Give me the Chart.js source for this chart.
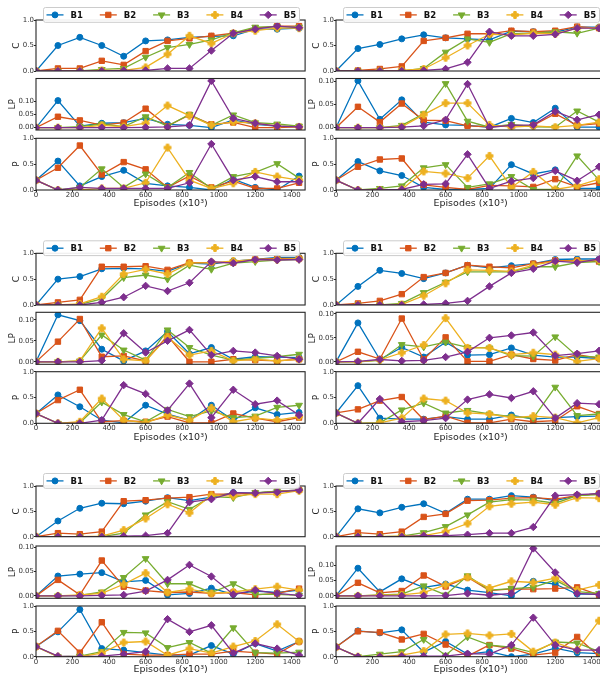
<!DOCTYPE html>
<html><head><meta charset="utf-8">
<script src="https://cdn.jsdelivr.net/npm/chart.js@4.4.1/dist/chart.umd.min.js"></script>
<style>
html,body{margin:0;padding:0;background:#fff;overflow:hidden;width:600px;height:675px;}
#wrap{position:relative;width:600px;height:675px;overflow:hidden;background:#fff;}
#wrap canvas{position:absolute;}
</style></head><body><div id="wrap"></div>
<script>
// ---------------- DATA ----------------
const episodes = [0,120,240,360,480,600,720,840,960,1080,1200,1320,1440];
const seriesNames = ['B1','B2','B3','B4','B5'];
const subplotNames = ['C','LP','P'];
const xTickValues = [0,200,400,600,800,1000,1200,1400];
const unitTickValues = [0,0.5,1.0];
const lpTickValues = [0,0.05,0.10];
const xTitle = 'Episodes (x10\u00B3)';

// Panel 1 (top-left)
const panel1_C = [
 [0,0.50,0.66,0.50,0.29,0.59,0.61,0.66,0.68,0.69,0.82,0.82,0.84],
 [0,0.05,0.05,0.20,0.12,0.39,0.59,0.64,0.69,0.74,0.84,0.88,0.88],
 [0,0,0,0.03,0.05,0.27,0.46,0.52,0.61,0.75,0.86,0.87,0.86],
 [0,0,0,0.01,0.01,0.07,0.33,0.69,0.54,0.74,0.79,0.84,0.84],
 [0,0,0,0,0.01,0.01,0.05,0.05,0.40,0.74,0.82,0.88,0.85]];
const panel1_LP = [
 [0,0.104,0.006,0.017,0.019,0.036,0.013,0.009,0,0.030,0.013,0.006,0.003],
 [0,0.042,0.028,0.010,0.019,0.073,0.006,0.049,0.013,0.020,0,0,0.003],
 [0,0,0.004,0.014,0.004,0.042,0.006,0.051,0.009,0.049,0.019,0.014,0.006],
 [0,0,0,0.009,0.004,0.017,0.085,0.046,0.010,0.022,0.017,0.006,0.003],
 [0,0,0,0,0,0.001,0.003,0.009,0.180,0.036,0.017,0.006,0.003]];
const panel1_P = [
 [0.19,0.56,0.08,0.26,0.38,0.13,0.08,0.05,0,0.21,0.05,0,0.27],
 [0.19,0.43,0.86,0.30,0.54,0.40,0.05,0.27,0.05,0.17,0.03,0.03,0.14],
 [0.19,0,0.05,0.41,0.05,0.31,0.05,0.34,0.03,0.26,0.34,0.51,0.23],
 [0.19,0,0,0.03,0.03,0.14,0.82,0.19,0.03,0.13,0.35,0.26,0.19],
 [0.19,0,0.05,0.03,0.03,0.03,0.03,0.14,0.89,0.19,0.26,0.16,0.16]];

// Panel 2 (top-right)
const panel2_C = [
 [0,0.44,0.52,0.63,0.71,0.65,0.63,0.61,0.78,0.77,0.76,0.86,0.86],
 [0,0.01,0.04,0.09,0.59,0.65,0.73,0.73,0.79,0.77,0.79,0.87,0.84],
 [0,0,0,0,0.05,0.37,0.63,0.56,0.73,0.74,0.77,0.74,0.84],
 [0,0,0,0.01,0.04,0.26,0.50,0.72,0.71,0.74,0.73,0.84,0.85],
 [0,0,0,0,0.01,0.04,0.17,0.77,0.69,0.69,0.72,0.84,0.84]];
const panel2_LP = [
 [0,0.101,0.018,0.060,0.012,0.006,0.005,0.001,0.020,0.011,0.042,0.001,0.001],
 [0,0.045,0.012,0.052,0.016,0.015,0.004,0.002,0.004,0.005,0.030,0.005,0.009],
 [0,0,0,0.005,0.030,0.095,0.014,0.001,0.007,0.002,0.001,0.036,0.012],
 [0,0,0,0.002,0.028,0.053,0.053,0.006,0.001,0.004,0.001,0.005,0.012],
 [0,0,0,0.001,0.004,0.017,0.094,0.001,0.005,0.006,0.035,0.017,0.028]];
const panel2_P = [
 [0.19,0.55,0.37,0.28,0.05,0.01,0.01,0.03,0.49,0.31,0.39,0.03,0.03],
 [0.19,0.45,0.59,0.61,0.10,0.05,0.01,0.09,0.08,0.06,0.21,0.06,0.14],
 [0.19,0,0.03,0.08,0.43,0.49,0.05,0.12,0.26,0.01,0.01,0.66,0.19],
 [0.19,0,0,0.01,0.36,0.32,0.23,0.66,0.05,0.35,0.01,0.08,0.21],
 [0.19,0,0,0.01,0.11,0.12,0.69,0.03,0.17,0.23,0.37,0.18,0.45]];

// Panel 3 (middle-left)
const panel3_C = [
 [0,0.50,0.55,0.70,0.71,0.70,0.65,0.81,0.79,0.85,0.88,0.92,0.92],
 [0,0.05,0.10,0.74,0.74,0.75,0.68,0.82,0.82,0.82,0.88,0.90,0.90],
 [0,0,0.01,0.12,0.53,0.58,0.50,0.77,0.69,0.81,0.84,0.87,0.88],
 [0,0,0.02,0.16,0.60,0.69,0.60,0.81,0.82,0.85,0.88,0.88,0.90],
 [0,0,0,0.05,0.15,0.37,0.27,0.43,0.84,0.81,0.88,0.87,0.88]];
const panel3_LP = [
 [0,0.112,0.098,0.030,0.002,0.026,0.072,0.019,0.034,0.006,0.012,0.011,0.010],
 [0,0.048,0.102,0.012,0.014,0.002,0.062,0,0,0.006,0.004,0.002,0.006],
 [0,0,0.002,0.064,0.028,0.004,0.076,0.034,0.016,0.004,0.008,0.012,0.018],
 [0,0,0.002,0.080,0.006,0.002,0.059,0.016,0.026,0.002,0.006,0.002,0.006],
 [0,0,0,0.003,0.068,0.022,0.050,0.076,0.016,0.026,0.022,0.014,0.006]];
const panel3_P = [
 [0.19,0.55,0.32,0.06,0.01,0.35,0.18,0.06,0.35,0.06,0.30,0.17,0.21],
 [0.19,0.45,0.65,0.03,0.05,0.03,0.13,0.01,0.01,0.19,0.10,0.03,0.11],
 [0.19,0,0.01,0.41,0.17,0.03,0.27,0.13,0.24,0.11,0.14,0.31,0.35],
 [0.19,0,0.03,0.48,0.06,0.01,0.16,0.06,0.30,0.03,0.10,0.06,0.13],
 [0.19,0,0,0.06,0.74,0.57,0.25,0.77,0.11,0.65,0.37,0.44,0.16]];

// Panel 4 (middle-right)
const panel4_C = [
 [0,0.36,0.67,0.61,0.51,0.62,0.77,0.72,0.76,0.80,0.88,0.89,0.89],
 [0,0.03,0.08,0.21,0.54,0.62,0.77,0.74,0.72,0.80,0.86,0.86,0.84],
 [0,0,0,0.03,0.24,0.44,0.64,0.64,0.64,0.74,0.74,0.82,0.84],
 [0,0,0,0.01,0.18,0.42,0.68,0.67,0.65,0.77,0.85,0.85,0.87],
 [0,0,0,0,0.01,0.03,0.08,0.36,0.62,0.70,0.85,0.82,0.89]];
const panel4_LP = [
 [0,0.081,0.005,0.030,0.010,0.041,0.014,0.015,0.029,0.014,0.010,0.010,0.007],
 [0,0.021,0.006,0.090,0.005,0.051,0.001,0.001,0.015,0.006,0.003,0.015,0.008],
 [0,0,0.003,0.036,0.031,0.041,0.030,0.029,0.013,0.012,0.052,0.012,0.010],
 [0,0,0.004,0.019,0.035,0.091,0.029,0.029,0.015,0.019,0.015,0.001,0.007],
 [0,0.001,0.005,0.002,0.003,0.010,0.021,0.050,0.055,0.061,0.013,0.017,0.023]];
const panel4_P = [
 [0.20,0.73,0.10,0.08,0.08,0.13,0.08,0.08,0.16,0.08,0.11,0.13,0.14],
 [0.20,0.27,0.44,0.51,0.07,0.14,0.01,0.01,0.08,0.03,0.05,0.33,0.18],
 [0.20,0,0.01,0.26,0.39,0.20,0.25,0.18,0.13,0.10,0.70,0.15,0.18],
 [0.20,0,0.01,0.10,0.48,0.44,0.20,0.18,0.11,0.14,0.11,0.01,0.11],
 [0.20,0,0.47,0.03,0.05,0.10,0.46,0.56,0.49,0.62,0.10,0.39,0.37]];

// Panel 5 (bottom-left)
const panel5_C = [
 [0,0.31,0.56,0.66,0.65,0.70,0.77,0.71,0.78,0.87,0.86,0.90,0.92],
 [0,0.07,0.05,0.10,0.70,0.72,0.76,0.78,0.84,0.84,0.86,0.90,0.92],
 [0,0,0,0,0.07,0.43,0.69,0.54,0.79,0.77,0.87,0.89,0.91],
 [0,0,0,0.01,0.13,0.36,0.64,0.47,0.82,0.80,0.84,0.84,0.91],
 [0,0,0,0,0.01,0.02,0.07,0.68,0.74,0.87,0.86,0.88,0.92]];
const panel5_LP = [
 [0,0.041,0.045,0.048,0.029,0.032,0.002,0.005,0.016,0.003,0.010,0.007,0.012],
 [0,0.033,0.002,0.073,0.019,0.011,0.007,0.008,0.005,0.007,0.002,0.005,0.015],
 [0,0,0.001,0.008,0.038,0.077,0.025,0.025,0.007,0.025,0.003,0.003,0.001],
 [0,0,0.002,0.005,0.024,0.047,0.007,0.014,0.005,0.008,0.014,0.019,0.012],
 [0,0,0,0.001,0.002,0.010,0.033,0.064,0.040,0.003,0.012,0.005,0.001]];
const panel5_P = [
 [0.20,0.49,0.93,0.16,0.13,0.08,0.03,0.03,0.22,0.05,0.26,0.11,0.30],
 [0.20,0.51,0.08,0.68,0.05,0.03,0.03,0.05,0.05,0.11,0.08,0.05,0.30],
 [0.20,0,0.01,0.10,0.48,0.47,0.18,0.28,0.07,0.57,0.08,0.07,0.09],
 [0.20,0,0,0.07,0.28,0.30,0.03,0.16,0.07,0.20,0.31,0.64,0.30],
 [0.20,0.01,0,0.01,0.05,0.10,0.74,0.49,0.62,0.07,0.26,0.16,0.03]];

// Panel 6 (bottom-right)
const panel6_C = [
 [0,0.55,0.47,0.58,0.65,0.46,0.74,0.74,0.81,0.78,0.71,0.81,0.85],
 [0,0.08,0.05,0.10,0.39,0.45,0.71,0.72,0.76,0.77,0.74,0.81,0.85],
 [0,0,0,0.01,0.08,0.20,0.43,0.68,0.73,0.72,0.66,0.81,0.83],
 [0,0,0,0.01,0.02,0.10,0.26,0.60,0.65,0.68,0.63,0.77,0.76],
 [0,0,0,0,0.02,0.02,0.04,0.07,0.07,0.19,0.81,0.83,0.85]];
const panel6_LP = [
 [0,0.091,0.013,0.056,0.028,0.039,0.019,0.011,0,0.048,0.039,0.006,0.006],
 [0,0.043,0.010,0.016,0.067,0.031,0.061,0.017,0.023,0.022,0.024,0.028,0.003],
 [0,0,0.003,0.006,0.033,0.003,0.066,0.019,0.024,0.028,0.052,0.014,0.008],
 [0,0,0.002,0.003,0.011,0.036,0.061,0.026,0.048,0.044,0.058,0.019,0.036],
 [0,0,0,0,0,0.001,0.008,0.002,0.008,0.156,0.077,0.008,0.004]];
const panel6_P = [
 [0.19,0.51,0.47,0.53,0.09,0.30,0.05,0.10,0,0.05,0.17,0.08,0.06],
 [0.19,0.50,0.48,0.34,0.45,0.24,0.01,0.23,0.16,0.03,0.08,0.39,0.01],
 [0.19,0,0.05,0.10,0.34,0.03,0.39,0.23,0.19,0.08,0.29,0.27,0.10],
 [0.19,0,0,0.03,0.11,0.44,0.46,0.42,0.45,0.10,0.28,0.13,0.71],
 [0.19,0,0,0.01,0.01,0.01,0.06,0.05,0.23,0.77,0.23,0.13,0.13]];

// ---------------- LAYOUT / STYLE ----------------
const panels = [
 {C:panel1_C, LP:panel1_LP, P:panel1_P},
 {C:panel2_C, LP:panel2_LP, P:panel2_P},
 {C:panel3_C, LP:panel3_LP, P:panel3_P},
 {C:panel4_C, LP:panel4_LP, P:panel4_P},
 {C:panel5_C, LP:panel5_LP, P:panel5_P},
 {C:panel6_C, LP:panel6_LP, P:panel6_P}];
const lpRanges = [[-0.009,0.189],[-0.005,0.106],[-0.006,0.118],[-0.005,0.103],[-0.005,0.103],[-0.008,0.164]];
const colX = [0, 300];
const rowAreas = [
 {C:[20,71],     LP:[78.5,130],    P:[138.3,190],   title:13.3},
 {C:[253.3,305], LP:[312.3,364.3], P:[371.7,423.3], title:14.4},
 {C:[486,536.7], LP:[546,598.3],   P:[606,656.7],   title:13.3}];
const X_MAX = 1473;
const AXIS_W = 36;
const FONT = '"DejaVu Sans", sans-serif';
const colors = ['#0072BD','#D95319','#77AC30','#EDB120','#7E2F8E'];

function plusMarker(color){
  const c = document.createElement('canvas'); c.width = 10; c.height = 10;
  const g = c.getContext('2d'); g.fillStyle = color; g.strokeStyle = color; g.lineWidth = 1;
  const cx = 5, cy = 5, a = 3.4, b = 1.25;
  g.beginPath();
  g.moveTo(cx-b, cy-a); g.lineTo(cx+b, cy-a); g.lineTo(cx+b, cy-b); g.lineTo(cx+a, cy-b);
  g.lineTo(cx+a, cy+b); g.lineTo(cx+b, cy+b); g.lineTo(cx+b, cy+a); g.lineTo(cx-b, cy+a);
  g.lineTo(cx-b, cy+b); g.lineTo(cx-a, cy+b); g.lineTo(cx-a, cy-b); g.lineTo(cx-b, cy-b);
  g.closePath(); g.fill(); g.stroke();
  return c;
}
const markers = [
 {style:'circle', r:3.0, rot:0},
 {style:'rect', r:3.8, rot:0},
 {style:'triangle', r:3.9, rot:180},
 {style:plusMarker(colors[3]), r:3.6, rot:0},
 {style:'rectRot', r:3.7, rot:0}];

function drawMarker(ctx, m, x, y){
  const s = m.style, r = m.r;
  if (s instanceof HTMLCanvasElement){ ctx.drawImage(s, Math.round(x - s.width/2), Math.round(y - s.height/2)); return; }
  ctx.beginPath();
  if (s === 'circle') ctx.arc(x,y,r,0,Math.PI*2);
  else if (s === 'rect'){ const h = r*Math.SQRT1_2; ctx.rect(x-h,y-h,2*h,2*h); }
  else if (s === 'triangle'){ // pointing down
    let a = Math.PI;
    for (let k=0;k<3;k++){ const px = x + Math.sin(a)*r, py = y - Math.cos(a)*r; if(k===0) ctx.moveTo(px,py); else ctx.lineTo(px,py); a += 2*Math.PI/3; }
  } else if (s === 'rectRot'){ ctx.moveTo(x-r,y); ctx.lineTo(x,y-r); ctx.lineTo(x+r,y); ctx.lineTo(x,y+r); }
  ctx.closePath(); ctx.fill(); ctx.stroke();
}

const framePlugin = {
  id:'frame',
  afterDatasetsDraw(chart){
    const a = chart.chartArea, ctx = chart.ctx;
    ctx.save(); ctx.strokeStyle = '#262626'; ctx.lineWidth = 1.1;
    ctx.strokeRect(a.left, a.top, a.right - a.left, a.bottom - a.top);
    ctx.restore();
  }
};
const legendPlugin = {
  id:'boxLegend',
  afterDraw(chart, args, opts){
    if (!opts || !opts.show) return;
    const ctx = chart.ctx, top = chart.chartArea.top - 12.5, h = 14.8, left = 43.5, w = 256;
    ctx.save();
    ctx.beginPath();
    if (ctx.roundRect) ctx.roundRect(left, top, w, h, 2); else ctx.rect(left, top, w, h);
    ctx.fillStyle = 'rgba(255,255,255,0.92)'; ctx.fill();
    ctx.strokeStyle = '#cccccc'; ctx.lineWidth = 1; ctx.stroke();
    const cy = top + h/2;
    chart.data.datasets.forEach((ds,i)=>{
      const cx = 55 + i*53.3;
      ctx.strokeStyle = ds.borderColor; ctx.lineWidth = 1.3;
      ctx.beginPath(); ctx.moveTo(cx-8.5, cy); ctx.lineTo(cx+8.5, cy); ctx.stroke();
      ctx.fillStyle = ds.borderColor; ctx.strokeStyle = ds.borderColor; ctx.lineWidth = 1;
      drawMarker(ctx, markers[i], cx, cy);
      ctx.fillStyle = '#111'; ctx.font = 'bold 8.5px ' + FONT;
      ctx.textBaseline = 'middle'; ctx.textAlign = 'left';
      ctx.fillText(ds.label, cx + 15.5, cy + 0.5);
    });
    ctx.restore();
  }
};

const wrap = document.getElementById('wrap');

function makeSub(pi, kind){
  const col = pi % 2, row = Math.floor(pi/2);
  const area = rowAreas[row][kind];
  const aTop = area[0], aBot = area[1];
  const isP = kind === 'P', isC = kind === 'C', isLP = kind === 'LP';
  const cTop = Math.floor(aTop - (isC ? 20 : 6));
  const padTop = aTop - cTop;
  const xAxisH = 26;
  const height = Math.ceil(aBot - cTop + (isP ? xAxisH : 6));
  const padBot = isP ? 0 : height - (aBot - cTop);
  const xH = isP ? height - (aBot - cTop) : 0;
  const width = 310;
  const padRight = width - (AXIS_W + 270);
  const canvas = document.createElement('canvas');
  canvas.width = width; canvas.height = height;
  canvas.style.left = colX[col] + 'px'; canvas.style.top = cTop + 'px';
  canvas.style.width = width + 'px'; canvas.style.height = height + 'px';
  wrap.appendChild(canvas);

  const vals = panels[pi][kind];
  const datasets = seriesNames.map((name,i)=>({
    label:name,
    data: episodes.map((x,j)=>({x:x, y:vals[i][j]})),
    borderColor: colors[i], backgroundColor: colors[i],
    pointBackgroundColor: colors[i], pointBorderColor: colors[i],
    borderWidth:1.3, pointBorderWidth:1,
    pointStyle: markers[i].style, pointRadius: markers[i].r, pointRotation: markers[i].rot,
    pointHoverRadius: markers[i].r,
    tension:0, fill:false, order: 4 - i
  }));
  const yTicks = isLP ? lpTickValues : unitTickValues;
  const yMin = isLP ? lpRanges[pi][0] : 0, yMax = isLP ? lpRanges[pi][1] : 1;
  const yTitlePad = isLP ? 7.5 : 11;
  new Chart(canvas, {
    type:'line',
    data:{datasets},
    plugins:[framePlugin, legendPlugin],
    options:{
      responsive:false, animation:false, events:[], devicePixelRatio:1,
      layout:{padding:{top:padTop, bottom:padBot, left:0, right:padRight}},
      plugins:{legend:{display:false}, tooltip:{enabled:false}, boxLegend:{show:isC}},
      scales:{
        x:{
          type:'linear', min:0, max:X_MAX, display:isP,
          afterBuildTicks:s=>{ s.ticks = xTickValues.map(v=>({value:v})); },
          afterFit:s=>{ if(isP) s.height = xH; },
          ticks:{font:{family:FONT,size:7}, color:'#333', padding:-1, maxRotation:0, autoSkip:false, callback:v=>String(v)},
          grid:{drawOnChartArea:false, drawTicks:true, tickLength:2, color:'#262626'},
          border:{display:false},
          title:{display:true, text:xTitle, font:{family:FONT,size:9.5}, color:'#262626',
                 padding:{top:0, bottom: xH - rowAreas[row].title - 5.7}}
        },
        y:{
          type:'linear', min:yMin, max:yMax,
          afterBuildTicks:s=>{ s.ticks = yTicks.map(v=>({value:v})); },
          afterFit:s=>{ s.width = AXIS_W; },
          ticks:{font:{family:FONT,size:7}, color:'#333', padding:0, autoSkip:false,
                 callback:v=> isLP ? Number(v).toFixed(2) : Number(v).toFixed(1)},
          grid:{drawOnChartArea:false, drawTicks:true, tickLength:2, color:'#262626'},
          border:{display:false},
          title:{display:true, text:kind, font:{family:FONT,size:9}, color:'#262626', padding:{top:yTitlePad, bottom:0}}
        }
      }
    }
  });
}

for (let pi=0; pi<6; pi++){ subplotNames.forEach(k=>makeSub(pi,k)); }
</script>
</body></html>
